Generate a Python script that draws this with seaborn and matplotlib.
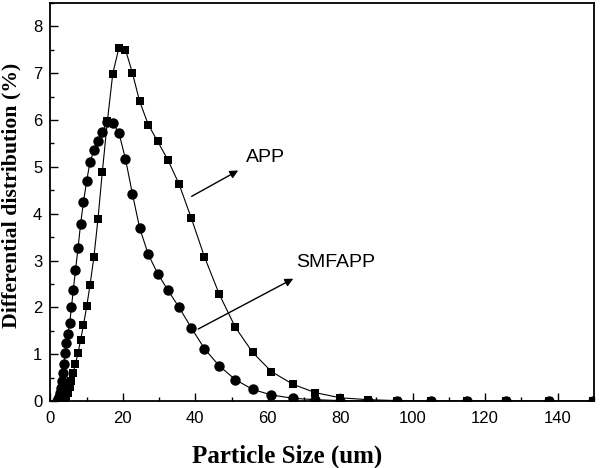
import pandas as pd
import seaborn as sns
import matplotlib.pyplot as plt
from matplotlib.ticker import MultipleLocator

# particle size bins (um) and differential distribution (%)
app_size = [3.1, 3.4, 3.7, 4.0, 4.4, 4.8, 5.3, 5.8, 6.3, 6.9, 7.6, 8.3, 9.1, 10.0,
            10.9, 12.0, 13.1, 14.3, 15.7, 17.2, 18.9, 20.7, 22.6, 24.6, 27.0, 29.6,
            32.4, 35.5, 38.9, 42.5, 46.6, 51.0, 55.8, 61.0, 66.9, 73.1, 80.0, 87.6,
            95.7, 105.0, 115.0, 125.8, 137.6, 149.8]
app_dist = [0.0, 0.01, 0.03, 0.06, 0.11, 0.18, 0.29, 0.43, 0.60, 0.80, 1.02, 1.30, 1.62, 2.02,
            2.47, 3.08, 3.88, 4.88, 5.97, 6.99, 7.54, 7.50, 7.01, 6.40, 5.90, 5.54,
            5.15, 4.63, 3.90, 3.08, 2.28, 1.58, 1.04, 0.63, 0.36, 0.18, 0.07, 0.03,
            0.01, 0.0, 0.0, 0.0, 0.0, 0.0]

smf_size = [1.8, 2.0, 2.2, 2.4, 2.6, 2.8, 3.1, 3.4, 3.7, 4.0, 4.4, 4.8, 5.3, 5.8,
            6.3, 6.9, 7.6, 8.3, 9.1, 10.0, 10.9, 12.0, 13.1, 14.3, 15.7, 17.2, 18.9,
            20.7, 22.6, 24.6, 27.0, 29.6, 32.4, 35.5, 38.9, 42.5, 46.6, 51.0, 55.8,
            61.0, 66.9, 73.1, 80.0, 87.6, 95.7, 105.0, 115.0, 125.8, 137.6, 149.8]
smf_dist = [0.0, 0.01, 0.04, 0.09, 0.17, 0.28, 0.43, 0.60, 0.80, 1.02, 1.23, 1.44, 1.67, 2.01,
            2.38, 2.79, 3.26, 3.77, 4.25, 4.70, 5.10, 5.35, 5.56, 5.75, 5.96, 5.94, 5.72,
            5.17, 4.43, 3.70, 3.13, 2.72, 2.37, 2.00, 1.56, 1.12, 0.75, 0.46, 0.25,
            0.13, 0.06, 0.03, 0.01, 0.0, 0.0, 0.0, 0.0, 0.0, 0.0, 0.0]

df_app = pd.DataFrame({"size": app_size, "dist": app_dist})
df_smf = pd.DataFrame({"size": smf_size, "dist": smf_dist})

plt.rcParams['font.family'] = ['Liberation Sans', 'DejaVu Sans']
fig = plt.figure(figsize=(6.01, 4.68), dpi=100)
ax = fig.add_axes([0.084, 0.143, 0.904, 0.851])

sns.lineplot(data=df_app, x="size", y="dist", ax=ax, color="black", linewidth=0.8,
             marker="s", markersize=6.3, markeredgewidth=0, markerfacecolor="black")
sns.lineplot(data=df_smf, x="size", y="dist", ax=ax, color="black", linewidth=0.8,
             marker="o", markersize=7.5, markeredgewidth=0, markerfacecolor="black")

ax.set_xlim(0, 150)
ax.set_ylim(0, 8.5)
ax.xaxis.set_major_locator(MultipleLocator(20))
ax.xaxis.set_minor_locator(MultipleLocator(10))
ax.yaxis.set_major_locator(MultipleLocator(1))
ax.yaxis.set_minor_locator(MultipleLocator(0.5))
ax.tick_params(which="both", direction="in", labelsize=12)
ax.tick_params(axis="x", which="major", length=6, width=1, pad=7)
ax.tick_params(axis="y", which="major", length=6, width=1, pad=6)
ax.tick_params(which="minor", length=3, width=1)
for s in ax.spines.values():
    s.set_linewidth(1.3)

ax.set_xlabel("Particle Size (um)", family="Liberation Serif", fontweight="bold", fontsize=18)
ax.set_ylabel("Differential distribution (%)", family="Liberation Serif", fontweight="bold", fontsize=15.7)
ax.xaxis.set_label_coords(0.435, -0.108)
ax.yaxis.set_label_coords(-0.054, 0.516)

ax.annotate("", xy=(52.5, 4.95), xytext=(38.3, 4.34),
            arrowprops=dict(arrowstyle="-|>", color="black", lw=1, mutation_scale=12))
ax.text(54.1, 5.19, "APP", fontsize=14, va="center", ha="left")
ax.annotate("", xy=(67.7, 2.64), xytext=(40.1, 1.51),
            arrowprops=dict(arrowstyle="-|>", color="black", lw=1, mutation_scale=12))
ax.text(67.9, 2.96, "SMFAPP", fontsize=14, va="center", ha="left")

fig.savefig("out.png", dpi=100)
